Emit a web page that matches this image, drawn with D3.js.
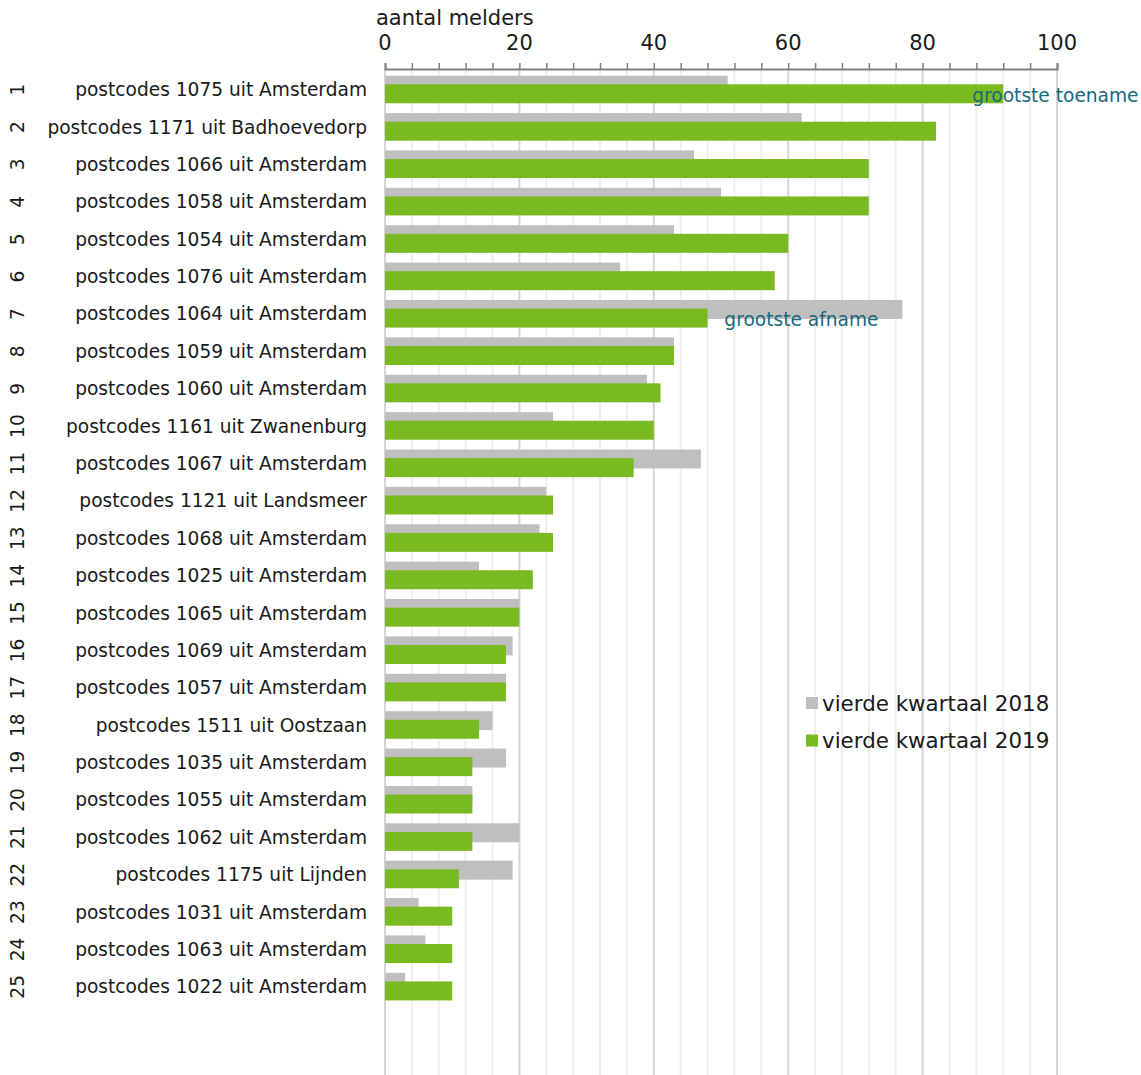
<!DOCTYPE html>
<html>
<head>
<meta charset="utf-8">
<script src="https://cdn.jsdelivr.net/npm/d3@7"></script>
<style>
  body { margin: 0; background: #fff; }
  text { font-family: "DejaVu Sans", Verdana, sans-serif; fill: #1a1a1a; }
</style>
</head>
<body>
<div id="chart"></div>
<script>
// data
const ranks = d3.range(1, 26);
const labels = [
  "postcodes 1075 uit Amsterdam",
  "postcodes 1171 uit Badhoevedorp",
  "postcodes 1066 uit Amsterdam",
  "postcodes 1058 uit Amsterdam",
  "postcodes 1054 uit Amsterdam",
  "postcodes 1076 uit Amsterdam",
  "postcodes 1064 uit Amsterdam",
  "postcodes 1059 uit Amsterdam",
  "postcodes 1060 uit Amsterdam",
  "postcodes 1161 uit Zwanenburg",
  "postcodes 1067 uit Amsterdam",
  "postcodes 1121 uit Landsmeer",
  "postcodes 1068 uit Amsterdam",
  "postcodes 1025 uit Amsterdam",
  "postcodes 1065 uit Amsterdam",
  "postcodes 1069 uit Amsterdam",
  "postcodes 1057 uit Amsterdam",
  "postcodes 1511 uit Oostzaan",
  "postcodes 1035 uit Amsterdam",
  "postcodes 1055 uit Amsterdam",
  "postcodes 1062 uit Amsterdam",
  "postcodes 1175 uit Lijnden",
  "postcodes 1031 uit Amsterdam",
  "postcodes 1063 uit Amsterdam",
  "postcodes 1022 uit Amsterdam"
];
const q4_2018 = [51, 62, 46, 50, 43, 35, 77, 43, 39, 25, 47, 24, 23, 14, 20, 19, 18, 16, 18, 13, 20, 19, 5, 6, 3];
const q4_2019 = [92, 82, 72, 72, 60, 58, 48, 43, 41, 40, 37, 25, 25, 22, 20, 18, 18, 14, 13, 13, 13, 11, 10, 10, 10];
const seriesNames = ["vierde kwartaal 2018", "vierde kwartaal 2019"];
const xTicks = [0, 20, 40, 60, 80, 100];

const width = 1141, height = 1075;
const colors = ["#bfbfbf", "#7aba21"];
const teal = "#17697a";

const svg = d3.select("#chart").append("svg")
  .attr("width", width)
  .attr("height", height);

const x = d3.scaleLinear().domain([0, 100]).range([385, 1057]);
const y = d3.scaleBand().domain(ranks).range([71, 71 + 25 * 37.38]);
const axisY = 69;

// gridlines
const minor = d3.range(0, 101, 4).filter(v => v % 20 !== 0);
svg.append("g").selectAll("line").data(minor).enter().append("line")
  .attr("x1", d => x(d)).attr("x2", d => x(d))
  .attr("y1", axisY).attr("y2", height)
  .attr("stroke", "#eeeeee").attr("stroke-width", 2);
svg.append("g").selectAll("line").data(xTicks).enter().append("line")
  .attr("x1", d => x(d)).attr("x2", d => x(d))
  .attr("y1", axisY).attr("y2", height)
  .attr("stroke", "#d6d6d6").attr("stroke-width", 2);

// bars
const rows = ranks.map((r, i) => ({ rank: r, label: labels[i], a: q4_2018[i], b: q4_2019[i] }));

svg.append("g").selectAll("rect").data(rows).enter().append("rect")
  .attr("x", x(0))
  .attr("y", d => y(d.rank) + 4.7)
  .attr("width", d => x(d.a) - x(0))
  .attr("height", 19)
  .attr("fill", colors[0]);

svg.append("g").selectAll("rect").data(rows).enter().append("rect")
  .attr("x", x(0))
  .attr("y", d => y(d.rank) + 13.3)
  .attr("width", d => x(d.b) - x(0))
  .attr("height", 19)
  .attr("fill", colors[1]);

// top axis
const axis = svg.append("g")
  .attr("transform", `translate(0,${axisY})`)
  .call(d3.axisTop(x).tickValues(d3.range(0, 101, 4)).tickSize(6).tickFormat(""));
axis.select(".domain").attr("stroke", "#808080").attr("stroke-width", 2);
axis.selectAll(".tick line").attr("stroke", "#808080").attr("stroke-width", 1.5);

svg.append("g").selectAll("text").data(xTicks).enter().append("text")
  .attr("x", d => x(d))
  .attr("y", 50)
  .attr("text-anchor", "middle")
  .style("font-size", "21px")
  .text(d => d);

svg.append("text")
  .attr("x", 376).attr("y", 25)
  .style("font-size", "21px")
  .text("aantal melders");

// category labels
svg.append("g").selectAll("text").data(rows).enter().append("text")
  .attr("x", 367)
  .attr("y", d => y(d.rank) + y.bandwidth() / 2)
  .attr("dy", "0.35em")
  .attr("text-anchor", "end")
  .style("font-size", "18.6px")
  .text(d => d.label);

// rank numbers, rotated
svg.append("g").selectAll("text").data(rows).enter().append("text")
  .attr("transform", d => `translate(17,${y(d.rank) + y.bandwidth() / 2}) rotate(-90)`)
  .attr("dy", "0.35em")
  .attr("text-anchor", "middle")
  .style("font-size", "18.6px")
  .text(d => d.rank);

// annotations
svg.append("text")
  .attr("x", x(87.4)).attr("y", y(1) + y.bandwidth() / 2 + 6)
  .attr("dy", "0.35em")
  .style("font-size", "18.6px").style("fill", teal)
  .text("grootste toename");
svg.append("text")
  .attr("x", x(50.5)).attr("y", y(7) + y.bandwidth() / 2 + 6)
  .attr("dy", "0.35em")
  .style("font-size", "18.6px").style("fill", teal)
  .text("grootste afname");

// legend
const legend = svg.append("g").attr("transform", "translate(806,697)");
seriesNames.forEach((name, i) => {
  const g = legend.append("g").attr("transform", `translate(0,${i * 37.5})`);
  g.append("rect").attr("width", 12).attr("height", 12).attr("fill", colors[i]);
  g.append("text").attr("x", 16).attr("y", 6).attr("dy", "0.35em")
    .style("font-size", "21.4px").text(name);
});
</script>
</body>
</html>
